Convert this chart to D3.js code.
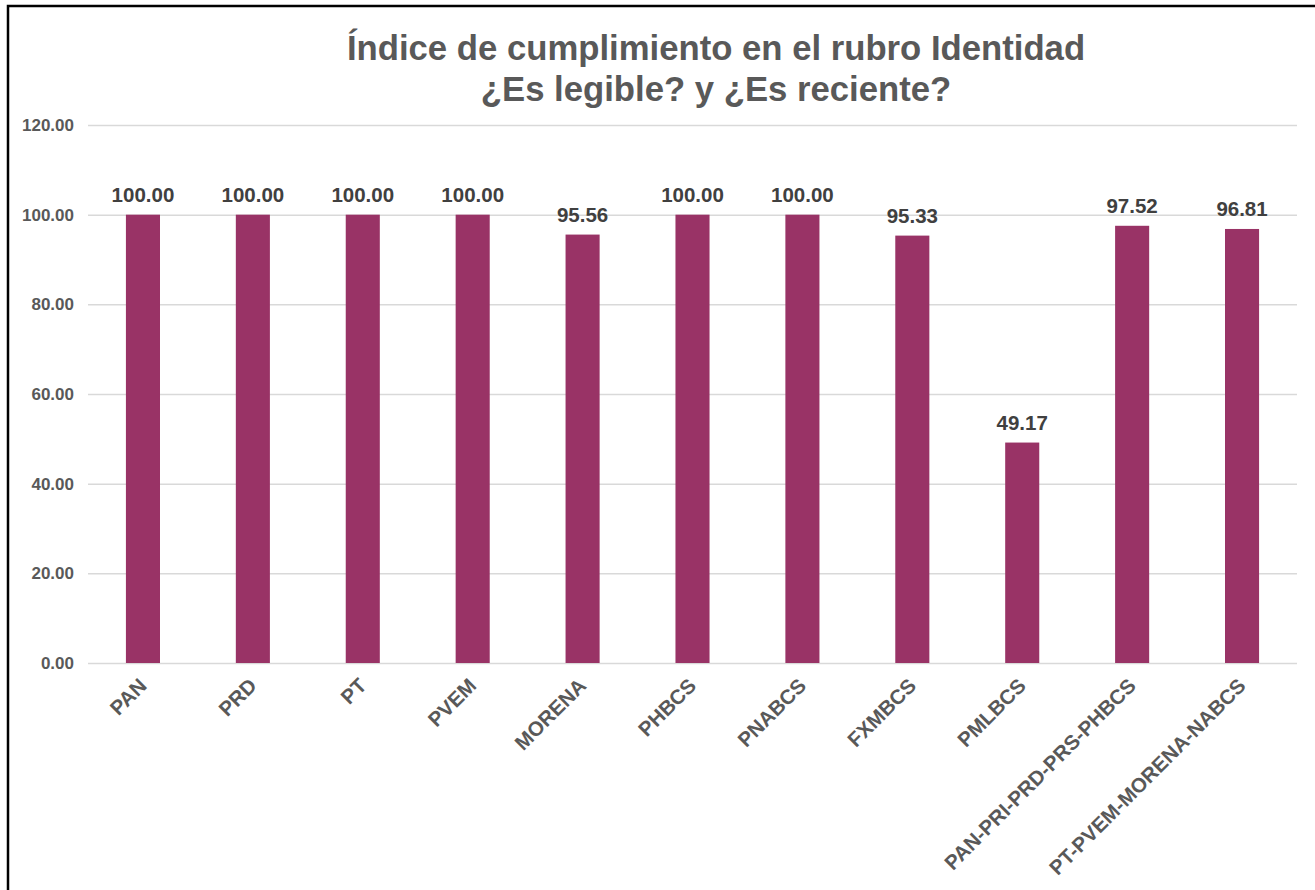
<!DOCTYPE html>
<html>
<head>
<meta charset="utf-8">
<script src="https://cdn.jsdelivr.net/npm/d3@7"></script>
<style>
  body { margin: 0; background: #fff; }
  svg text { font-family: "Liberation Sans", Arial, sans-serif; font-weight: bold; }
</style>
</head>
<body>
<script>
var partidos = ['PAN', 'PRD', 'PT', 'PVEM', 'MORENA', 'PHBCS', 'PNABCS', 'FXMBCS', 'PMLBCS',
    'PAN-PRI-PRD-PRS-PHBCS', 'PT-PVEM-MORENA-NABCS'];
var indice = [100.00, 100.00, 100.00, 100.00, 95.56, 100.00, 100.00, 95.33, 49.17, 97.52, 96.81];
var ticksY = [0, 20, 40, 60, 80, 100, 120];
var titulo = ['Índice de cumplimiento en el rubro Identidad', '¿Es legible? y ¿Es reciente?'];

var width = 1315, height = 890;
var margin = { top: 125, right: 18, bottom: 227, left: 88 };

var svg = d3.select('body')
    .append('svg')
    .attr('width', width)
    .attr('height', height)

// marco negro de la captura (solo lados izquierdo y superior visibles)
svg.append('path')
    .attr('d', 'M8,' + height + 'V6H' + width)
    .attr('fill', 'none')
    .attr('stroke', '#000')
    .attr('stroke-width', 2.5)

var x = d3.scaleBand()
    .domain(partidos)
    .range([margin.left, width - margin.right])
    .paddingInner(0.69)
    .paddingOuter(0.345)

var y = d3.scaleLinear()
    .domain([0, 120])
    .range([height - margin.bottom, margin.top])

// titulo
svg.append('g')
    .selectAll('text')
    .data(titulo)
    .enter()
    .append('text')
    .attr('x', 716)
    .attr('y', function (d, i) { return 60 + i * 41; })
    .attr('text-anchor', 'middle')
    .attr('fill', '#595959')
    .style('font-size', '34.7px')
    .text(function (d) { return d; })

// rejilla + etiquetas del eje y
var yAxis = svg.append('g')
    .attr('transform', 'translate(' + margin.left + ',0)')
    .call(d3.axisLeft(y)
        .tickValues(ticksY)
        .tickSize(-(width - margin.left - margin.right))
        .tickPadding(14)
        .tickFormat(d3.format('.2f')))

yAxis.select('.domain').remove()
yAxis.selectAll('.tick line').attr('stroke', '#d9d9d9').attr('stroke-width', 1.5)
yAxis.selectAll('.tick text')
    .attr('fill', '#595959')
    .style('font-size', '17px')

// barras
svg.append('g')
    .selectAll('rect')
    .data(partidos)
    .enter()
    .append('rect')
    .attr('x', function (d) { return x(d); })
    .attr('y', function (d, i) { return y(indice[i]); })
    .attr('width', x.bandwidth())
    .attr('height', function (d, i) { return y(0) - y(indice[i]); })
    .attr('fill', '#993366')

// etiquetas de datos
svg.append('g')
    .selectAll('text')
    .data(partidos)
    .enter()
    .append('text')
    .attr('x', function (d) { return x(d) + x.bandwidth() / 2; })
    .attr('y', function (d, i) { return y(indice[i]) - 13; })
    .attr('text-anchor', 'middle')
    .attr('fill', '#404040')
    .style('font-size', '20.5px')
    .text(function (d, i) { return d3.format('.2f')(indice[i]); })

// etiquetas del eje x, giradas
svg.append('g')
    .selectAll('text')
    .data(partidos)
    .enter()
    .append('text')
    .attr('transform', function (d) {
        var cx = x(d) + x.bandwidth() / 2;
        return 'translate(' + (cx + 5) + ',' + (y(0) + 24) + ') rotate(-45)';
    })
    .attr('text-anchor', 'end')
    .attr('fill', '#595959')
    .style('font-size', '20.5px')
    .text(function (d) { return d; })
</script>
</body>
</html>
